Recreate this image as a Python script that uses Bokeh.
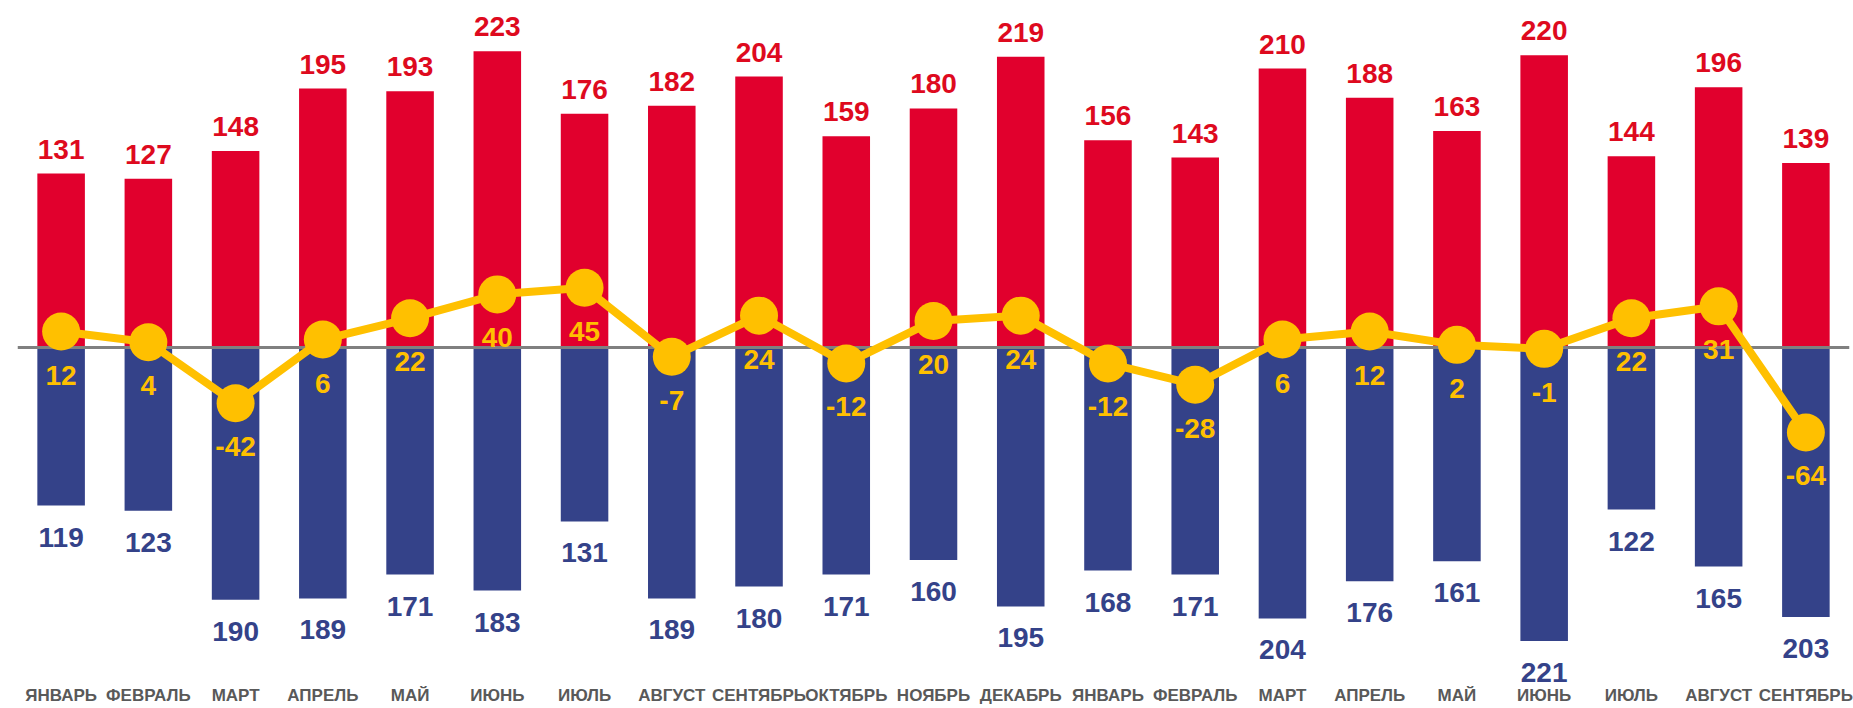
from bokeh.plotting import figure
from bokeh.models import ColumnDataSource, FixedTicker, Range1d, LabelSet
from bokeh.core.properties import value
from bokeh.embed import file_html
from bokeh.resources import INLINE

months = ["ЯНВАРЬ", "ФЕВРАЛЬ", "МАРТ", "АПРЕЛЬ", "МАЙ", "ИЮНЬ", "ИЮЛЬ", "АВГУСТ",
          "СЕНТЯБРЬ", "ОКТЯБРЬ", "НОЯБРЬ", "ДЕКАБРЬ", "ЯНВАРЬ", "ФЕВРАЛЬ", "МАРТ",
          "АПРЕЛЬ", "МАЙ", "ИЮНЬ", "ИЮЛЬ", "АВГУСТ", "СЕНТЯБРЬ"]
red_vals = [131, 127, 148, 195, 193, 223, 176, 182, 204, 159, 180, 219, 156, 143, 210,
            188, 163, 220, 144, 196, 139]
blue_vals = [119, 123, 190, 189, 171, 183, 131, 189, 180, 171, 160, 195, 168, 171, 204,
             176, 161, 221, 122, 165, 203]
diff_vals = [12, 4, -42, 6, 22, 40, 45, -7, 24, -12, 20, 24, -12, -28, 6, 12, 2, -1,
             22, 31, -64]

RED = "#E1002D"
BLUE = "#344289"
GOLD = "#FFC000"

xs = list(range(len(months)))
src = ColumnDataSource(dict(
    x=xs,
    red=red_vals,
    blue_neg=[-b for b in blue_vals],
    diff=diff_vals,
    red_txt=[str(v) for v in red_vals],
    blue_txt=[str(v) for v in blue_vals],
    diff_txt=[str(v) for v in diff_vals],
))

FIG_H = 708
BOTTOM = 25
frame_h = 683.0          # frame height left after the axis takes its space
ppu = 1.328
zero_px = 347.0
ytop = zero_px / ppu
ybot = -(frame_h - zero_px) / ppu

p = figure(width=1853, height=FIG_H, x_range=Range1d(-0.5, 20.5), y_range=Range1d(ybot, ytop),
           output_backend="svg", toolbar_location=None, y_axis_location=None,
           min_border_left=17, min_border_right=4, min_border_top=0, min_border_bottom=BOTTOM)
p.outline_line_color = None
p.grid.visible = False
p.background_fill_color = "white"
p.border_fill_color = "white"

p.vbar(x="x", top="red", bottom=0, width=0.545, source=src, fill_color=RED, line_color=None)
p.vbar(x="x", top=0, bottom="blue_neg", width=0.545, source=src, fill_color=BLUE, line_color=None)
p.hspan(y=[0], line_color="#808080", line_width=3)

p.line(x="x", y="diff", source=src, line_color=GOLD, line_width=8)
p.scatter(x="x", y="diff", source=src, size=38, fill_color=GOLD, line_color=None)

lbl = dict(text_align="center", text_baseline="alphabetic", text_font=value("Liberation Sans"),
           text_font_style="bold", text_font_size="28px", source=src)
p.add_layout(LabelSet(x="x", y="red", text="red_txt", text_color="#DE0A1E", y_offset=15, **lbl))
p.add_layout(LabelSet(x="x", y="blue_neg", text="blue_txt", text_color=BLUE, y_offset=-41, **lbl))
p.add_layout(LabelSet(x="x", y="diff", text="diff_txt", text_color=GOLD, y_offset=-53, **lbl))

ax = p.xaxis[0]
ax.ticker = FixedTicker(ticks=xs)
ax.major_label_overrides = {i: m for i, m in enumerate(months)}
ax.major_tick_line_color = None
ax.minor_tick_line_color = None
ax.axis_line_color = None
ax.major_label_text_font = "Liberation Sans"
ax.major_label_text_font_style = "bold"
ax.major_label_text_font_size = "17px"
ax.major_label_text_color = "#595959"
ax.major_label_standoff = -4

open("out.html", "w").write(file_html(p, INLINE))
